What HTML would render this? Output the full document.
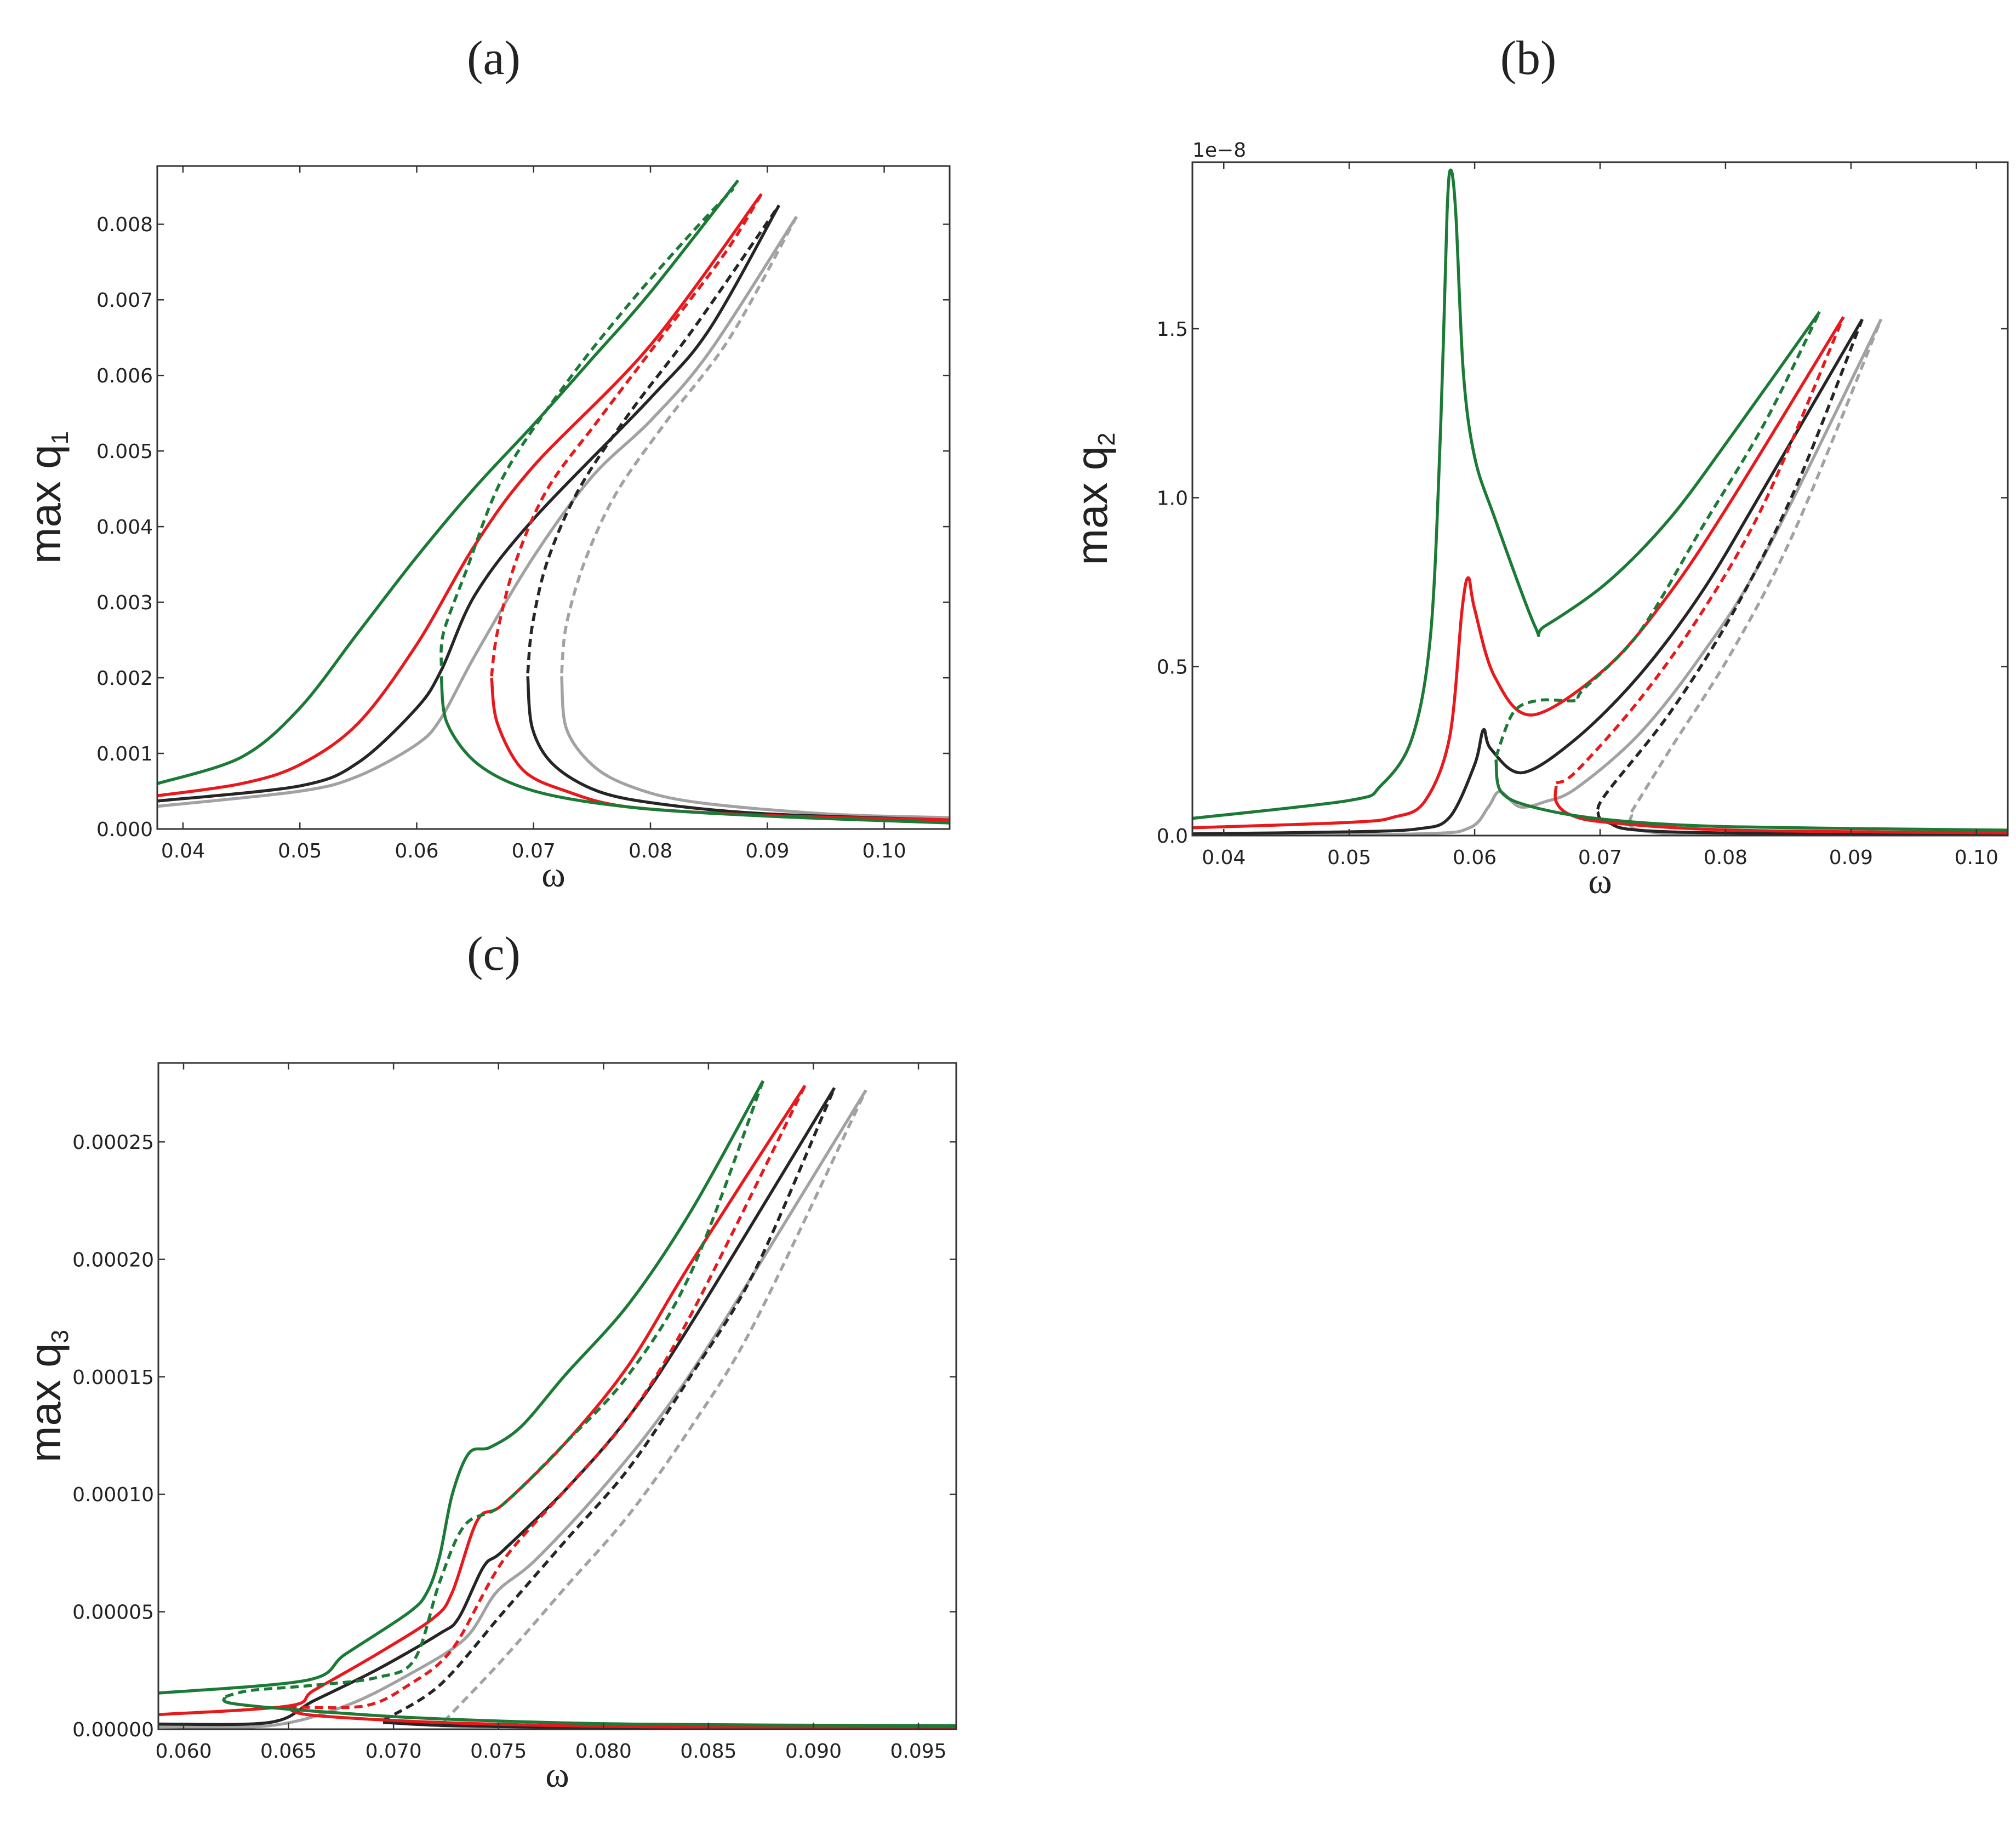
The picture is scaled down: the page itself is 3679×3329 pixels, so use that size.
<!DOCTYPE html>
<html><head><meta charset="utf-8"><style>
html,body{margin:0;padding:0;background:#fff}
svg{display:block}
text{font-family:"DejaVu Sans","Liberation Sans",sans-serif;fill:#222}
</style></head><body>
<svg id="fig" width="3679" height="3329" viewBox="0 0 3679 3329" xmlns="http://www.w3.org/2000/svg">
<text x="901" y="135" font-size="88" text-anchor="middle" style="font-family:'Liberation Serif',serif">(a)</text>
<text x="2789" y="135" font-size="88" text-anchor="middle" style="font-family:'Liberation Serif',serif">(b)</text>
<text x="901" y="1770" font-size="88" text-anchor="middle" style="font-family:'Liberation Serif',serif">(c)</text>
</svg>
<script>
// ---------- Panel (a): max q1 ----------
const aXTicks=[0.04,0.05,0.06,0.07,0.08,0.09,0.10];
const aXTickLabels=["0.04","0.05","0.06","0.07","0.08","0.09","0.10"];
const aYTicks=[0,0.001,0.002,0.003,0.004,0.005,0.006,0.007,0.008];
const aYTickLabels=["0.000","0.001","0.002","0.003","0.004","0.005","0.006","0.007","0.008"];
const aGreenSolidX=[0.0378,0.045,0.05,0.055,0.06,0.065,0.07,0.075,0.08,0.0875];
const aGreenSolidY=[0.0006,0.00095,0.0016,0.0026,0.0036,0.00452,0.00535,0.00622,0.0071,0.00858];
const aGreenLowX=[0.0621,0.0626,0.0653,0.0701,0.0782,0.09,0.1056];
const aGreenLowY=[0.00202,0.0014,0.00085,0.0005,0.00029,0.00017,0.00008];
const aGreenDashX=[0.0621,0.0623,0.0642,0.0674,0.0728,0.0782,0.0836,0.0871];
const aGreenDashY=[0.00216,0.0026,0.0034,0.00466,0.0059,0.00695,0.0079,0.00847];
const aRedSolidX=[0.0378,0.045,0.05,0.055,0.06,0.065,0.07,0.08,0.0895];
const aRedSolidY=[0.00044,0.0006,0.00085,0.0014,0.00244,0.00376,0.0048,0.0064,0.0084];
const aRedLowX=[0.0664,0.0669,0.0691,0.0728,0.0782,0.09,0.1056];
const aRedLowY=[0.002,0.0014,0.00078,0.0005,0.00029,0.00018,0.00012];
const aRedDashX=[0.0664,0.0669,0.0685,0.0712,0.0755,0.0809,0.0863,0.0895];
const aRedDashY=[0.00202,0.0026,0.00355,0.0045,0.0054,0.0065,0.0076,0.0084];
const aBlackSolidX=[0.0378,0.05,0.055,0.06,0.0621,0.065,0.07,0.08,0.085,0.091];
const aBlackSolidY=[0.00037,0.00057,0.00088,0.0016,0.0021,0.0031,0.0041,0.0057,0.0066,0.00825];
const aBlackLowX=[0.0695,0.0699,0.0717,0.0755,0.0809,0.09,0.1056];
const aBlackLowY=[0.00202,0.00133,0.00085,0.0005,0.00033,0.0002,0.00012];
const aBlackDashX=[0.0695,0.0699,0.0712,0.0739,0.0782,0.0836,0.091];
const aBlackDashY=[0.00206,0.0027,0.00355,0.0045,0.0055,0.0066,0.00825];
const aGraySolidX=[0.0378,0.05,0.055,0.06,0.0621,0.065,0.07,0.075,0.08,0.085,0.0925];
const aGraySolidY=[0.0003,0.0005,0.0007,0.00112,0.00147,0.0023,0.0036,0.00466,0.0054,0.0063,0.0081];
const aGrayLowX=[0.0724,0.0728,0.075,0.0782,0.0836,0.095,0.1056];
const aGrayLowY=[0.00202,0.00133,0.00085,0.00057,0.00036,0.0002,0.00015];
const aGrayDashX=[0.0724,0.0728,0.0744,0.0771,0.0814,0.0868,0.0925];
const aGrayDashY=[0.00206,0.0027,0.00355,0.00445,0.0054,0.0065,0.0081];

// ---------- Panel (b): max q2 (×1e-8) ----------
const bXTicks=[0.04,0.05,0.06,0.07,0.08,0.09,0.10];
const bXTickLabels=["0.04","0.05","0.06","0.07","0.08","0.09","0.10"];
const bYTicks=[0,0.5,1.0,1.5];
const bYTickLabels=["0.0","0.5","1.0","1.5"];
const bGreenSolidX=[0.0375,0.05,0.0525,0.055,0.0565,0.0573,0.0578,0.0581,0.0585,0.0591,0.06,0.0616,0.0648,0.0656,0.0706,0.0756,0.0806,0.0875];
const bGreenSolidY=[0.051,0.104,0.147,0.287,0.60,1.22,1.84,1.97,1.84,1.37,1.12,0.94,0.62,0.62,0.75,0.94,1.19,1.55];
const bGreenLowX=[0.0617,0.0621,0.0646,0.0706,0.0806,0.1025];
const bGreenLowY=[0.225,0.13,0.085,0.047,0.026,0.016];
const bGreenDashX=[0.0617,0.0631,0.0651,0.0681,0.0686,0.0731,0.0781,0.0831,0.0875];
const bGreenDashY=[0.233,0.365,0.40,0.40,0.43,0.60,0.91,1.22,1.55];
const bRedSolidX=[0.0375,0.05,0.0535,0.056,0.058,0.059,0.0595,0.06,0.0616,0.0646,0.0706,0.0756,0.0806,0.0894];
const bRedSolidY=[0.023,0.039,0.054,0.10,0.29,0.67,0.763,0.67,0.47,0.357,0.50,0.72,1.0,1.535];
const bRedLowX=[0.0665,0.0665,0.0676,0.0706,0.0806,0.1025];
const bRedLowY=[0.147,0.10,0.062,0.039,0.016,0.008];
const bRedDashX=[0.0665,0.0681,0.0731,0.0781,0.0831,0.0894];
const bRedDashY=[0.155,0.19,0.40,0.66,0.985,1.535];
const bBlackSolidX=[0.0375,0.05,0.0555,0.058,0.06,0.0607,0.0613,0.0638,0.0681,0.0731,0.0781,0.0831,0.0909];
const bBlackSolidY=[0.005,0.011,0.02,0.054,0.21,0.313,0.256,0.186,0.287,0.473,0.72,1.03,1.528];
const bBlackLowX=[0.0698,0.0706,0.0756,0.1025];
const bBlackLowY=[0.07,0.039,0.011,0.0];
const bBlackDashX=[0.0698,0.0706,0.0756,0.0806,0.0856,0.0909];
const bBlackDashY=[0.078,0.13,0.365,0.66,1.03,1.528];
const bGraySolidX=[0.0375,0.0555,0.0596,0.0611,0.062,0.0636,0.0656,0.0681,0.0731,0.0781,0.0831,0.0924];
const bGraySolidY=[0.0,0.005,0.023,0.085,0.13,0.085,0.10,0.14,0.30,0.535,0.83,1.528];
const bGrayLowX=[0.0725,0.0731,0.0806,0.1025];
const bGrayLowY=[0.062,0.016,0.0,0.0];
const bGrayDashX=[0.0725,0.0756,0.0806,0.0856,0.0924];
const bGrayDashY=[0.07,0.256,0.55,0.91,1.528];

// ---------- Panel (c): max q3 ----------
const cXTicks=[0.060,0.065,0.070,0.075,0.080,0.085,0.090,0.095];
const cXTickLabels=["0.060","0.065","0.070","0.075","0.080","0.085","0.090","0.095"];
const cYTicks=[0,0.00005,0.0001,0.00015,0.0002,0.00025];
const cYTickLabels=["0.00000","0.00005","0.00010","0.00015","0.00020","0.00025"];
const cGreenSolidX=[0.0588,0.0659,0.0677,0.0707,0.0716,0.0722,0.0728,0.0736,0.0746,0.0761,0.0782,0.0812,0.0842,0.0876];
const cGreenSolidY=[1.54e-5,2.09e-5,3.19e-5,4.95e-5,5.83e-5,7.37e-5,1.0e-4,1.176e-4,1.2e-4,1.29e-4,1.51e-4,1.81e-4,2.21e-4,2.76e-4];
const cGreenLowX=[0.062,0.0623,0.0662,0.0722,0.0812,0.0968];
const cGreenLowY=[1.39e-5,1.1e-5,7.7e-6,4.4e-6,2.2e-6,1.5e-6];
const cGreenDashX=[0.062,0.0632,0.0662,0.0692,0.071,0.0722,0.0734,0.0752,0.0782,0.0812,0.0842,0.0876];
const cGreenDashY=[1.39e-5,1.65e-5,1.87e-5,2.2e-5,2.97e-5,6.27e-5,8.69e-5,9.56e-5,1.22e-4,1.51e-4,1.95e-4,2.76e-4];
const cRedSolidX=[0.0588,0.065,0.0662,0.0692,0.0719,0.0728,0.074,0.0752,0.0782,0.0812,0.0842,0.0896];
const cRedSolidY=[6.2e-6,9.9e-6,1.65e-5,3.19e-5,4.73e-5,5.83e-5,8.9e-5,9.56e-5,1.22e-4,1.55e-4,1.99e-4,2.74e-4];
const cRedLowX=[0.065,0.0662,0.0722,0.0812,0.0968];
const cRedLowY=[8.8e-6,5.9e-6,2.9e-6,1.1e-6,4e-7];
const cRedDashX=[0.065,0.0686,0.0707,0.0728,0.0752,0.0782,0.0812,0.0842,0.0896];
const cRedDashY=[9.5e-6,9.9e-6,1.87e-5,3.41e-5,7.15e-5,1.02e-4,1.33e-4,1.77e-4,2.74e-4];
const cBlackSolidX=[0.0588,0.0641,0.0662,0.0692,0.0722,0.0731,0.0743,0.0752,0.0782,0.0812,0.0842,0.091];
const cBlackSolidY=[2.2e-6,2.9e-6,1.21e-5,2.53e-5,4.07e-5,4.73e-5,6.93e-5,7.59e-5,1.02e-4,1.33e-4,1.73e-4,2.73e-4];
const cBlackLowX=[0.0695,0.0752,0.0968];
const cBlackLowY=[2.9e-6,1.1e-6,0];
const cBlackDashX=[0.0695,0.0722,0.0752,0.0782,0.0812,0.0842,0.0872,0.091];
const cBlackDashY=[3.7e-6,1.87e-5,4.95e-5,8.03e-5,1.11e-4,1.51e-4,1.95e-4,2.73e-4];
const cGraySolidX=[0.0588,0.0641,0.0677,0.0707,0.0734,0.0749,0.0767,0.0797,0.0827,0.0857,0.0925];
const cGraySolidY=[1.1e-6,1.5e-6,9.9e-6,2.31e-5,3.85e-5,5.83e-5,7.15e-5,1.0e-4,1.33e-4,1.73e-4,2.72e-4];
const cGrayLowX=[0.0722,0.0812,0.0968];
const cGrayLowY=[1.5e-6,4e-7,0];
const cGrayDashX=[0.0724,0.0752,0.0782,0.0812,0.0842,0.0872,0.0925];
const cGrayDashY=[3.3e-6,2.97e-5,6.05e-5,9.12e-5,1.29e-4,1.73e-4,2.72e-4];

const NS="http://www.w3.org/2000/svg";
const svg=document.getElementById('fig');
const GREEN="#1b7a35",RED="#e8191c",BLACK="#252525",GRAY="#a2a2a2";

function mk(tag,attrs,parent){const e=document.createElementNS(NS,tag);for(const k in attrs)e.setAttribute(k,attrs[k]);(parent||svg).appendChild(e);return e;}

function smoothPath(P){
  if(P.length<3)return 'M'+P.map(p=>p[0].toFixed(1)+','+p[1].toFixed(1)).join(' L');
  let d='M'+P[0][0].toFixed(1)+','+P[0][1].toFixed(1);
  const t=0.16;
  for(let i=0;i<P.length-1;i++){
    const p0=P[i-1]||P[i],p1=P[i],p2=P[i+1],p3=P[i+2]||P[i+1];
    const c1=[p1[0]+(p2[0]-p0[0])*t,p1[1]+(p2[1]-p0[1])*t];
    const c2=[p2[0]-(p3[0]-p1[0])*t,p2[1]-(p3[1]-p1[1])*t];
    d+=' C'+c1[0].toFixed(1)+','+c1[1].toFixed(1)+' '+c2[0].toFixed(1)+','+c2[1].toFixed(1)+' '+p2[0].toFixed(1)+','+p2[1].toFixed(1);
  }
  return d;
}

function panel(id,box,xr,yr,xt,xtl,yt,ytl,ylabel,sub,series,extra){
  const g=mk('g',{});
  
  
  const sx=v=>box.l+(v-xr[0])/(xr[1]-xr[0])*(box.r-box.l);
  const sy=v=>box.b-(v-yr[0])/(yr[1]-yr[0])*(box.b-box.t);
  const clip=mk('clipPath',{id:id+'-clip'},g);
  mk('rect',{x:box.l,y:box.t,width:box.r-box.l,height:box.b-box.t},clip);
  const lines=mk('g',{'clip-path':'url(#'+id+'-clip)'},g);
  series.forEach(s=>{
    const P=s.x.map((v,i)=>[sx(v),sy(s.y[i])]);
    const p=mk('path',{d:smoothPath(P),fill:'none',stroke:s.c,'stroke-width':5.5,'stroke-linejoin':'round','stroke-linecap':'butt'},lines);
    if(s.d)p.setAttribute('stroke-dasharray','15 9');
    
    
  });
  const frame=mk('rect',{x:box.l,y:box.t,width:box.r-box.l,height:box.b-box.t,fill:'none',stroke:'#333','stroke-width':3},g);
  
  
  xt.forEach((v,i)=>{
    const x=sx(v);
    mk('line',{x1:x,x2:x,y1:box.b,y2:box.b-12,stroke:'#333','stroke-width':2.5},g);
    mk('line',{x1:x,x2:x,y1:box.t,y2:box.t+12,stroke:'#333','stroke-width':2.5},g);
    const t=mk('text',{x:x,y:box.b+52,'font-size':36,'text-anchor':'middle'},g);
    t.textContent=xtl[i];
    
    
  });
  yt.forEach((v,i)=>{
    const y=sy(v);
    mk('line',{x1:box.l,x2:box.l+12,y1:y,y2:y,stroke:'#333','stroke-width':2.5},g);
    mk('line',{x1:box.r,x2:box.r-12,y1:y,y2:y,stroke:'#333','stroke-width':2.5},g);
    const t=mk('text',{x:box.l-8,y:y+13,'font-size':36,'text-anchor':'end'},g);
    t.textContent=ytl[i];
    
    
  });
  const xl=mk('text',{x:(box.l+box.r)/2,y:box.b+105,'font-size':66,'text-anchor':'middle',style:"font-family:'Liberation Serif',serif"},g);
  xl.textContent='ω';
  
  
  const yl=mk('text',{x:0,y:0,'font-size':80,'text-anchor':'middle',transform:'translate('+(ylabel)+','+((box.t+box.b)/2)+') rotate(-90)',style:"font-family:'Liberation Sans',sans-serif"},g);
  yl.textContent='max q';
  const ts=mk('tspan',{'font-size':44,dy:14},yl);
  ts.textContent=sub;
  
  
  if(extra){const e=mk('text',{x:box.l,y:box.t-10,'font-size':36},g);e.textContent=extra;
    
    }
}
function S(n,x,y,c,d){return {n:n,x:x,y:y,c:c,d:d};}

panel('panel-a',{l:287,r:1733,t:303,b:1513},[0.0378,0.1056],[0,0.00877],aXTicks,aXTickLabels,aYTicks,aYTickLabels,110,'1',[
 S('a-gray-solid',aGraySolidX,aGraySolidY,GRAY),S('a-gray-lower',aGrayLowX,aGrayLowY,GRAY),S('a-gray-dashed',aGrayDashX,aGrayDashY,GRAY,1),
 S('a-black-solid',aBlackSolidX,aBlackSolidY,BLACK),S('a-black-lower',aBlackLowX,aBlackLowY,BLACK),S('a-black-dashed',aBlackDashX,aBlackDashY,BLACK,1),
 S('a-red-solid',aRedSolidX,aRedSolidY,RED),S('a-red-lower',aRedLowX,aRedLowY,RED),S('a-red-dashed',aRedDashX,aRedDashY,RED,1),
 S('a-green-solid',aGreenSolidX,aGreenSolidY,GREEN),S('a-green-lower',aGreenLowX,aGreenLowY,GREEN),S('a-green-dashed',aGreenDashX,aGreenDashY,GREEN,1)]);

panel('panel-b',{l:2176,r:3664,t:296,b:1525},[0.0375,0.1025],[0,1.993],bXTicks,bXTickLabels,bYTicks,bYTickLabels,2020,'2',[
 S('b-gray-solid',bGraySolidX,bGraySolidY,GRAY),S('b-gray-lower',bGrayLowX,bGrayLowY,GRAY),S('b-gray-dashed',bGrayDashX,bGrayDashY,GRAY,1),
 S('b-black-solid',bBlackSolidX,bBlackSolidY,BLACK),S('b-black-lower',bBlackLowX,bBlackLowY,BLACK),S('b-black-dashed',bBlackDashX,bBlackDashY,BLACK,1),
 S('b-red-solid',bRedSolidX,bRedSolidY,RED),S('b-red-lower',bRedLowX,bRedLowY,RED),S('b-red-dashed',bRedDashX,bRedDashY,RED,1),
 S('b-green-solid',bGreenSolidX,bGreenSolidY,GREEN),S('b-green-lower',bGreenLowX,bGreenLowY,GREEN),S('b-green-dashed',bGreenDashX,bGreenDashY,GREEN,1)],'1e\u22128');

panel('panel-c',{l:289,r:1745,t:1940,b:3156},[0.0588,0.0968],[0,0.0002836],cXTicks,cXTickLabels,cYTicks,cYTickLabels,110,'3',[
 S('c-gray-solid',cGraySolidX,cGraySolidY,GRAY),S('c-gray-lower',cGrayLowX,cGrayLowY,GRAY),S('c-gray-dashed',cGrayDashX,cGrayDashY,GRAY,1),
 S('c-black-solid',cBlackSolidX,cBlackSolidY,BLACK),S('c-black-lower',cBlackLowX,cBlackLowY,BLACK),S('c-black-dashed',cBlackDashX,cBlackDashY,BLACK,1),
 S('c-red-solid',cRedSolidX,cRedSolidY,RED),S('c-red-lower',cRedLowX,cRedLowY,RED),S('c-red-dashed',cRedDashX,cRedDashY,RED,1),
 S('c-green-solid',cGreenSolidX,cGreenSolidY,GREEN),S('c-green-lower',cGreenLowX,cGreenLowY,GREEN),S('c-green-dashed',cGreenDashX,cGreenDashY,GREEN,1)]);
</script>
</body></html>
